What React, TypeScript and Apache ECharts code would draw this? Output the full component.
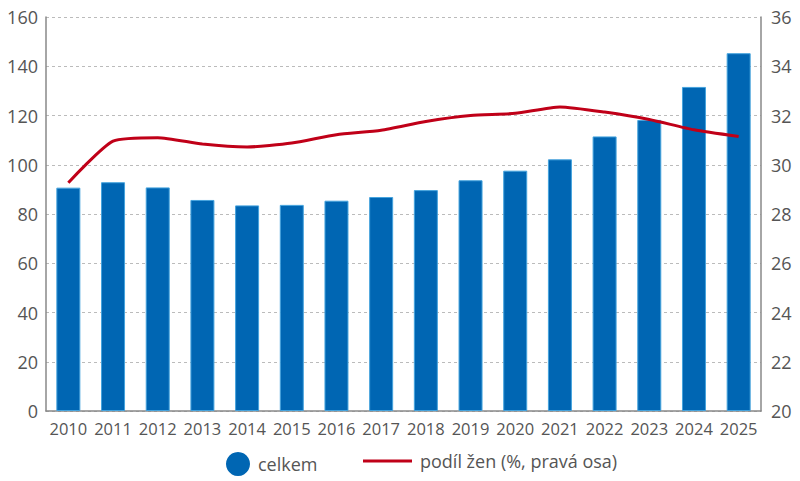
import React, { useEffect, useRef } from "react";
import * as echarts from "echarts";

const years = ["2010","2011","2012","2013","2014","2015","2016","2017","2018","2019","2020","2021","2022","2023","2024","2025"];
const celkem = [90.7, 92.9, 90.8, 85.7, 83.5, 83.7, 85.4, 86.9, 89.7, 93.7, 97.6, 102.2, 111.5, 118.2, 131.6, 145.3];
const podilZen = [29.27, 30.96, 31.1, 30.84, 30.72, 30.88, 31.22, 31.4, 31.76, 32.0, 32.09, 32.35, 32.14, 31.84, 31.42, 31.15];
const leftTicks = { min: 0, max: 160, interval: 20 };
const rightTicks = { min: 20, max: 36, interval: 2 };

const FONT = "'Open Sans', 'Noto Sans', sans-serif";
const GREY = "#555";

export default function App() {
  const ref = useRef<HTMLDivElement>(null);
  useEffect(() => {
    if (!ref.current) return;
    const chart = echarts.init(ref.current, undefined, { renderer: "svg" });
    chart.setOption({
      animation: false,
      textStyle: { fontFamily: FONT },
      grid: { left: 46, right: 39, top: 17, bottom: 70 },
      legend: [
        {
          data: [{ name: "celkem", icon: "circle", itemStyle: { borderWidth: 0 } }],
          left: 221,
          top: 447,
          itemWidth: 24,
          itemHeight: 24,
          textStyle: { fontSize: 18, color: GREY, fontFamily: FONT, padding: [0, 0, 0, 3] },
        },
        {
          data: [{ name: "podíl žen (%, pravá osa)", icon: "rect" }],
          left: 358,
          top: 447,
          itemWidth: 49,
          itemHeight: 3,
          textStyle: { fontSize: 18, color: GREY, fontFamily: FONT, padding: [0, 0, 0, 3] },
        },
      ],
      xAxis: {
        type: "category",
        data: years,
        axisLine: { lineStyle: { color: "#888", width: 1.5 } },
        axisTick: { show: false },
        axisLabel: { fontSize: 16.5, color: GREY, margin: 9, fontFamily: FONT, interval: 0 },
      },
      yAxis: [
        {
          type: "value",
          ...leftTicks,
          axisLine: { show: true, lineStyle: { color: "#888", width: 1.5 } },
          axisTick: { show: false },
          axisLabel: { fontSize: 18, color: GREY, margin: 8, fontFamily: FONT },
          splitLine: { lineStyle: { color: "#bbb", type: [3, 3], width: 1 } },
        },
        {
          type: "value",
          ...rightTicks,
          position: "right",
          axisLine: { show: true, lineStyle: { color: "#888", width: 1.5 } },
          axisTick: { show: false },
          axisLabel: { fontSize: 18, color: GREY, margin: 10, fontFamily: FONT },
          splitLine: { show: false },
        },
      ],
      series: [
        {
          name: "celkem",
          type: "bar",
          data: celkem,
          barWidth: 24,
          itemStyle: { color: "#0066b3", borderColor: "#45a3dd", borderWidth: 1 },
        },
        {
          name: "podíl žen (%, pravá osa)",
          type: "line",
          yAxisIndex: 1,
          data: podilZen,
          smooth: 0.2,
          symbol: "none",
          lineStyle: { color: "#c00018", width: 3 },
          itemStyle: { color: "#c00018" },
        },
      ],
    });
    return () => chart.dispose();
  }, []);
  return <div ref={ref} style={{ width: 800, height: 481, position: "absolute", left: 0, top: 0 }} />;
}
